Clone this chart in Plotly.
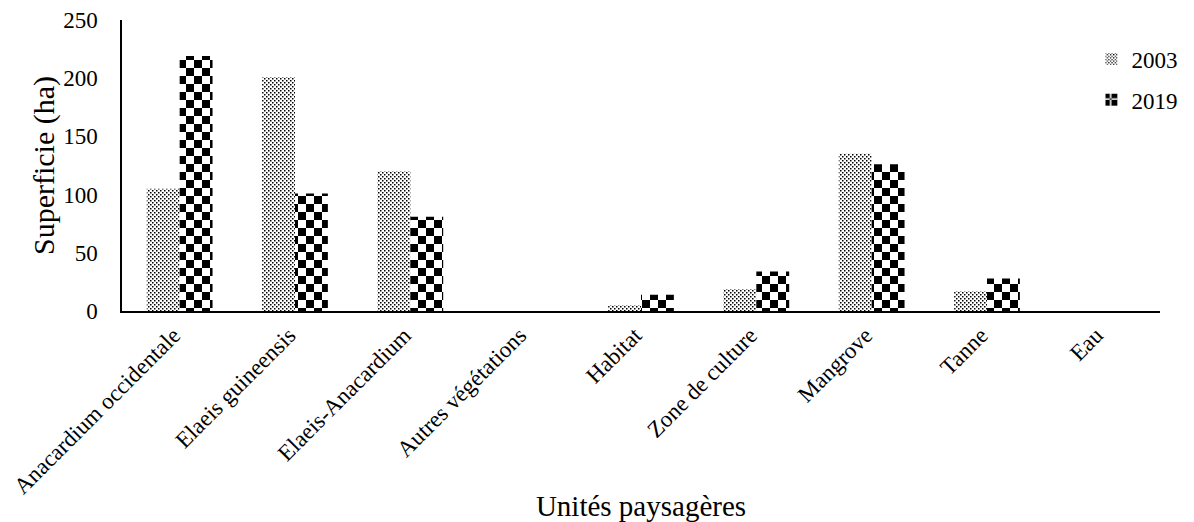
import plotly.graph_objects as go

categories = ["Anacardium occidentale", "Elaeis guineensis", "Elaeis-Anacardium",
              "Autres végétations", "Habitat", "Zone de culture", "Mangrove", "Tanne", "Eau"]
values_2003 = [105, 201, 120, 0, 5, 19, 135, 17, 0]
values_2019 = [219, 101, 81, 0, 14, 34, 126, 28, 0]
y_ticks = [0, 50, 100, 150, 200, 250]

FONT = "Liberation Serif, Times New Roman, serif"

fig = go.Figure()
fig.add_bar(
    x=categories, y=values_2003, name="2003", legendgroup="a",
    marker=dict(color="white", line=dict(width=0),
                pattern=dict(path="M0,0H1.5V1.5H0Z M2,2H3.5V3.5H2Z", size=4,
                             fgcolor="black", bgcolor="white", fillmode="replace")),
)
fig.add_bar(
    x=categories, y=values_2019, name="2019", legendgroup="b",
    marker=dict(color="white", line=dict(width=0),
                pattern=dict(path="M0,0H8V8H0Z M8,8H16V16H8Z", size=16,
                             fgcolor="black", bgcolor="white", fillmode="replace")),
)

fig.update_layout(
    width=1194, height=522,
    paper_bgcolor="white", plot_bgcolor="white",
    margin=dict(l=122, r=34, t=20, b=211, autoexpand=False),
    barmode="group", bargap=0.43, bargroupgap=0,
    font=dict(family=FONT, size=23, color="black"),
    showlegend=True,
    legend=dict(x=0.934, y=0.94, xanchor="left", yanchor="top",
                bgcolor="rgba(0,0,0,0)", font=dict(size=23, family=FONT, color="black"),
                tracegroupgap=8, itemwidth=30),
    xaxis=dict(
        title=dict(text="Unités paysagères", font=dict(size=29, family=FONT), standoff=20),
        tickangle=-45, showline=True, linecolor="black", linewidth=1.5,
        ticks="", showgrid=False, tickfont=dict(size=23, family=FONT, color="black"),
        ticklabelshift=-6, automargin=False,
    ),
    yaxis=dict(
        title=dict(text="Superficie (ha)", font=dict(size=30, family=FONT), standoff=0),
        range=[0, 250], tickvals=y_ticks, showline=True, linecolor="black", linewidth=1.5,
        ticks="", showgrid=False, zeroline=False,
        tickfont=dict(size=23, family=FONT, color="black"),
        ticklabelstandoff=18, automargin=False,
    ),
)

fig.write_html(
    "out.html",
    config={"displayModeBar": False},
    post_script="document.body.style.margin='0';document.body.style.overflow='hidden';",
)
